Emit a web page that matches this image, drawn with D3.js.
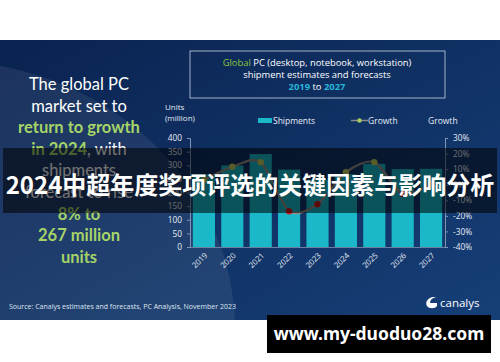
<!DOCTYPE html>
<html>
<head>
<meta charset="utf-8">
<script src="https://cdn.jsdelivr.net/npm/d3@7"></script>
<style>
body {margin:0; background:#fff;}
svg {display:block; font-family:'Open Sans', sans-serif;}
</style>
</head>
<body>
<svg width="500" height="362"></svg>
<script>
// data
var years = ['2019','2020','2021','2022','2023','2024','2025','2026','2027']
var shipments = [267, 299, 341, 284, 247, 267, 305, 286, 287]
var growth = [3, 11.5, 14.5, -17, -12.5, 8, 14.5, -6, 0.5]
var unitTicks = [0, 50, 100, 150, 200, 250, 300, 350, 400]
var growthTicks = [-40, -30, -20, -10, 0, 10, 20, 30]
var leftLines = [
  [['The global PC','#fff']],
  [['market set to','#fff']],
  [['return to growth','#a6d468']],
  [['in 2024','#a6d468'],[', with','#fff']],
  [['shipments','#fff']],
  [['forecast to rise','#fff']],
  [['8% to','#a6d468']],
  [['267 million','#a6d468']],
  [['units','#a6d468']]
]

var svg = d3.select('svg')
var defs = svg.append('defs')

var bg = defs.append('linearGradient').attr('id','bg')
    .attr('x1',0).attr('y1',0).attr('x2',1).attr('y2',1)
bg.append('stop').attr('offset','0%').attr('stop-color','#0a2350')
bg.append('stop').attr('offset','100%').attr('stop-color','#163f78')

// panel
svg.append('rect')
    .attr('x',0).attr('y',40).attr('width',500).attr('height',280)
    .attr('fill','url(#bg)')

defs.append('clipPath').attr('id','panel')
  .append('rect').attr('x',0).attr('y',40).attr('width',500).attr('height',280)

// light swoosh at left
svg.append('g').attr('clip-path','url(#panel)')
  .append('ellipse')
    .attr('cx',-60).attr('cy',330).attr('rx',295).attr('ry',270)
    .attr('fill','#ffffff').attr('opacity',0.07)

// title box
svg.append('rect')
    .attr('x',190).attr('y',51).attr('width',255).attr('height',47)
    .attr('fill','none').attr('stroke','#c8d4e4').attr('stroke-width',0.8)

var t1 = svg.append('text').attr('x',317).attr('y',66)
    .attr('text-anchor','middle').attr('font-size',9.4).attr('fill','#fff')
t1.append('tspan').attr('fill','#8cc63f').text('Global')
t1.append('tspan').text(' PC (desktop, notebook, workstation)')
svg.append('text').attr('x',317).attr('y',77.5)
    .attr('text-anchor','middle').attr('font-size',9.4).attr('fill','#fff')
    .text('shipment estimates and forecasts')
var t3 = svg.append('text').attr('x',317).attr('y',89.5)
    .attr('text-anchor','middle').attr('font-size',9.4).attr('fill','#fff')
t3.append('tspan').attr('fill','#29b6d8').attr('font-weight','bold').text('2019')
t3.append('tspan').text(' to ')
t3.append('tspan').attr('fill','#29b6d8').attr('font-weight','bold').text('2027')

// left headline
leftLines.forEach(function(parts,i){
  var t = svg.append('text')
      .attr('x',79).attr('y',90+i*21.6)
      .attr('text-anchor','middle')
      .attr('font-size',16.5)
      .attr('font-family','Lato, sans-serif')
  parts.forEach(function(p){
    t.append('tspan').attr('fill',p[1])
      .attr('font-weight', p[1]=='#fff' ? 'normal' : 'bold')
      .text(p[0])
  })
})

// scales
var x = d3.scaleBand().domain(years).range([190,445]).paddingInner(0.22).paddingOuter(0.1)
var y = d3.scaleLinear().domain([0,400]).range([247,138])
var y2 = d3.scaleLinear().domain([-40,30]).range([247,138])

// legend + axis titles
svg.append('text').attr('x',165).attr('y',110).attr('font-size',8).attr('fill','#e6ecf4').text('Units')
svg.append('text').attr('x',165).attr('y',121).attr('font-size',8).attr('fill','#e6ecf4').text('(million)')
svg.append('rect').attr('x',258).attr('y',118).attr('width',14).attr('height',5).attr('fill','#1ab8c8')
svg.append('text').attr('x',273).attr('y',123.5).attr('font-size',8.5).attr('fill','#e6ecf4').text('Shipments')
svg.append('line').attr('x1',351).attr('x2',368).attr('y1',120.5).attr('y2',120.5)
    .attr('stroke','#8a8a8a').attr('stroke-width',1.5)
svg.append('circle').attr('cx',359.5).attr('cy',120.5).attr('r',2.2).attr('fill','#a8d060')
svg.append('text').attr('x',368).attr('y',123.5).attr('font-size',8.5).attr('fill','#e6ecf4').text('Growth')
svg.append('text').attr('x',428).attr('y',123.5).attr('font-size',8.5).attr('fill','#e6ecf4').text('Growth')

// axes
var ax = svg.append('g').attr('transform','translate(190,0)')
    .call(d3.axisLeft(y).tickValues(unitTicks).tickSize(3).tickPadding(5))
var ax2 = svg.append('g').attr('transform','translate(445,0)')
    .call(d3.axisRight(y2).tickValues(growthTicks).tickSize(3).tickPadding(5)
      .tickFormat(function(d){return d+'%'}))
;[ax,ax2].forEach(function(a){
  a.select('.domain').attr('stroke','#7f93b3')
  a.selectAll('.tick line').attr('stroke','#7f93b3')
  a.selectAll('text').attr('fill','#e6ecf4').attr('font-size',8.3)
    .attr('font-family','Open Sans, sans-serif')
})

// bars
svg.append('g').selectAll('rect')
  .data(shipments)
  .enter()
  .append('rect')
    .attr('x',function(d,i){return x(years[i])})
    .attr('y',function(d){return y(d)})
    .attr('width',x.bandwidth())
    .attr('height',function(d){return y(0)-y(d)})
    .attr('fill','#1ab8c8')

svg.append('line').attr('x1',190).attr('x2',445).attr('y1',247.5).attr('y2',247.5)
    .attr('stroke','#7f93b3').attr('stroke-width',0.8)

// x labels
svg.append('g').selectAll('text')
  .data(years)
  .enter()
  .append('text')
    .attr('transform',function(d){return 'translate('+(x(d)+x.bandwidth()/2+4)+',256) rotate(-45)'})
    .attr('text-anchor','end')
    .attr('font-size',7.8)
    .attr('fill','#e6ecf4')
    .text(function(d){return d})

// growth line
var line = d3.line()
    .x(function(d,i){return x(years[i])+x.bandwidth()/2})
    .y(function(d){return y2(d)})
    .curve(d3.curveCardinal.tension(0.2))
svg.append('path').datum(growth)
    .attr('d',line)
    .attr('fill','none')
    .attr('stroke','#9a8e86')
    .attr('stroke-width',2.2)
svg.append('g').selectAll('circle')
  .data(growth)
  .enter()
  .append('circle')
    .attr('cx',function(d,i){return x(years[i])+x.bandwidth()/2})
    .attr('cy',function(d){return y2(d)})
    .attr('r',3.2)
    .attr('fill',function(d){return d>=0 ? '#c2cc60' : '#d01818'})

// source + logo
svg.append('text').attr('x',9).attr('y',309).attr('font-size',7).attr('fill','#dfe6f0')
    .text('Source: Canalys estimates and forecasts, PC Analysis, November 2023')
svg.append('path')
    .attr('d','M433,297 C427,298 425,303 427,306 C429,309 435,309 437,306 L437,303 L430,303 C430,300 432,298 436,297 Z')
    .attr('fill','#fff')
svg.append('text').attr('x',440).attr('y',307).attr('font-size',11.5).attr('fill','#fff').text('canalys')

// dark banner overlay
svg.append('rect').attr('x',3).attr('y',148).attr('width',494).attr('height',65)
    .attr('fill','#000').attr('opacity',0.55)
svg.append('text').attr('x',250).attr('y',194)
    .attr('text-anchor','middle')
    .attr('font-family','"Noto Sans CJK SC", sans-serif')
    .attr('font-weight','bold')
    .attr('font-size',24)
    .attr('fill','#fff')
    .text('2024中超年度奖项评选的关键因素与影响分析')

// watermark
svg.append('rect').attr('x',267).attr('y',315).attr('width',224).attr('height',38).attr('fill','#000')
svg.append('text').attr('x',379).attr('y',340)
    .attr('text-anchor','middle')
    .attr('font-family','"Noto Sans", sans-serif')
    .attr('font-weight','bold')
    .attr('font-size',17.5)
    .attr('fill','#fff')
    .text('www.my-duoduo28.com')
</script>
</body>
</html>
